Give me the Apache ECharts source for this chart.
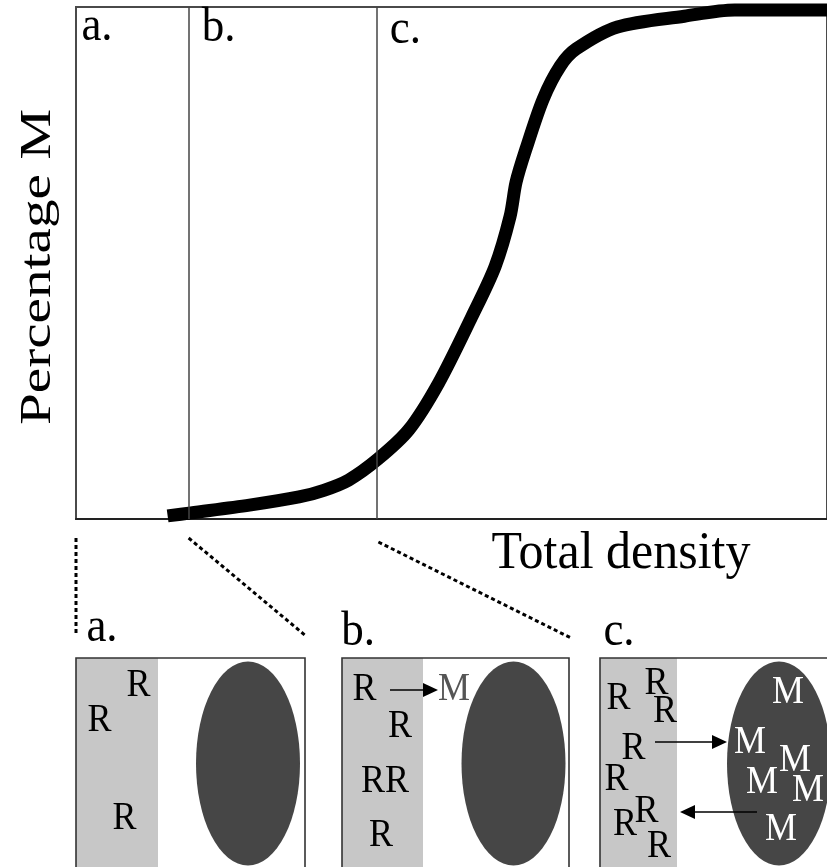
<!DOCTYPE html>
<html><head><meta charset="utf-8">
<script src="https://cdn.jsdelivr.net/npm/echarts@6/dist/echarts.min.js"></script>
<style>html,body{margin:0;padding:0;background:#fff}#c{width:827px;height:867px}</style>
</head><body><div id="c"></div>
<script>
// ---- data ----
const densityX = [12.2, 15.3, 23.1, 29.7, 33.0, 36.3, 40.2, 44.3, 48.3, 52.7, 55.8, 57.8, 58.6, 59.9, 62.2, 64.5, 66.6, 72.1, 81.0, 87.7, 100];
const percentM = [0.6, 1.2, 2.7, 4.3, 5.6, 7.6, 11.7, 17.4, 26.6, 39.5, 49.3, 59.1, 65.8, 72.2, 82.0, 88.5, 91.8, 96.1, 98.2, 99.4, 99.4];
const phaseBounds = [15, 40];
const phaseLabels = ['a.', 'b.', 'c.'];
const xAxisTitle = 'Total density';
const yAxisTitle = 'Percentage M';

const FONT = "'Liberation Serif','Times New Roman',serif";
const chart = echarts.init(document.getElementById('c'), null, {renderer: 'canvas'});

chart.setOption({
  animation: false,
  backgroundColor: '#fff',
  grid: {left: 76, top: 7, right: -4, bottom: 348, show: true, borderColor: '#4a4a4a', borderWidth: 2, backgroundColor: 'transparent'},
  xAxis: {type: 'value', min: 0, max: 100, axisLine: {show: true, lineStyle: {color: '#222', width: 2}}, axisTick: {show: false}, axisLabel: {show: false}, splitLine: {show: false}},
  yAxis: {type: 'value', min: 0, max: 100, axisLine: {show: false}, axisTick: {show: false}, axisLabel: {show: false}, splitLine: {show: false}},
  series: [{
    type: 'line',
    data: densityX.map((x, i) => [x, percentM[i]]),
    smooth: 0.3,
    symbol: 'none',
    lineStyle: {color: '#000', width: 13},
    clip: true,
    markLine: {
      silent: true,
      symbol: ['none', 'none'],
      label: {show: false},
      lineStyle: {color: '#444', width: 1.5, type: 'solid'},
      data: phaseBounds.map(v => ({xAxis: v}))
    }
  }]
});

function txt(s, x, y, size, fill, extra) {
  return Object.assign({
    type: 'text', x: x, y: y, scaleY: 1.1, z: 100,
    style: {text: s, font: size + 'px ' + FONT, fill: fill || '#000',
      textAlign: 'center', textVerticalAlign: 'middle', align: 'center', verticalAlign: 'middle'}
  }, extra || {});
}
function dashed(x1, y1, x2, y2) {
  return {type: 'line', z: 50, shape: {x1, y1, x2, y2}, style: {stroke: '#000', lineWidth: 3, lineDash: [4, 3]}};
}
function arrow(x1, y, x2) {
  const dir = x2 > x1 ? 1 : -1;
  const hl = 15, hw = 7;
  return [
    {type: 'line', z: 60, shape: {x1: x1, y1: y, x2: x2 - dir * hl, y2: y}, style: {stroke: '#000', lineWidth: 1.6}},
    {type: 'polygon', z: 60, shape: {points: [[x2, y], [x2 - dir * hl, y - hw], [x2 - dir * hl, y + hw]]}, style: {fill: '#000'}}
  ];
}
function panel(x0, x1, greyRight, ecx) {
  return [
    {type: 'rect', z: 10, shape: {x: x0, y: 658, width: x1 - x0, height: 230}, style: {fill: '#fff'}},
    {type: 'rect', z: 11, shape: {x: x0, y: 658, width: greyRight - x0, height: 230}, style: {fill: '#c7c7c7'}},
    {type: 'circle', z: 12, x: ecx, y: 763.5, scaleX: 52 / 102, shape: {cx: 0, cy: 0, r: 102}, style: {fill: '#464646'}},
    {type: 'rect', z: 13, shape: {x: x0, y: 658, width: x1 - x0, height: 230}, style: {fill: 'none', stroke: '#333', lineWidth: 1.6}}
  ];
}

function drawGraphics() {
  const pxA = chart.convertToPixel({gridIndex: 0}, [0, 0]);
  const pxB = chart.convertToPixel({gridIndex: 0}, [phaseBounds[0], 0]);
  const pxC = chart.convertToPixel({gridIndex: 0}, [phaseBounds[1], 0]);
  const g = [];
  // axis titles
  g.push(txt(xAxisTitle, 621, 554, 50, '#000', {scaleY: 1.06}));
  g.push(Object.assign(txt(yAxisTitle, 38, 267, 44, '#000'), {rotation: Math.PI / 2, scaleY: 1, scaleX: 1.3}));
  // top phase labels
  const LS = 45;
  g.push(txt(phaseLabels[0], pxA[0] + 21, 42 - 0.3 * LS * 1.1, LS));
  g.push(txt(phaseLabels[1], pxB[0] + 30, 43 - 0.3 * LS * 1.1, LS));
  g.push(txt(phaseLabels[2], pxC[0] + 29, 45 - 0.3 * LS * 1.1, LS));
  // connector dashed lines
  g.push(dashed(pxA[0], 538, pxA[0], 636));
  g.push(dashed(pxB[0], 538, 306, 636));
  g.push(dashed(pxC[0] + 2, 542, 571, 638));
  // bottom panel labels
  g.push(txt(phaseLabels[0], 102, 643 - 0.3 * LS * 1.1, LS));
  g.push(txt(phaseLabels[1], 358, 647 - 0.3 * LS * 1.1, LS));
  g.push(txt(phaseLabels[2], 619, 647 - 0.3 * LS * 1.1, LS));
  // panels
  g.push(...panel(76, 305, 158, 248));
  g.push(...panel(342, 569, 423, 513.5));
  g.push(...panel(600, 840, 677, 779));
  const F = 36;
  // panel a
  [[138.5, 685.5], [99.5, 720.5], [124.5, 818.5]].forEach(p => g.push(txt('R', p[0], p[1], F)));
  // panel b
  [[364.5, 689.5], [400, 726.5], [373, 781.5], [397, 781.5], [381, 835.5]].forEach(p => g.push(txt('R', p[0], p[1], F)));
  g.push(txt('M', 454, 690, F, '#555'));
  g.push(...arrow(390, 690, 438));
  // panel c
  [[618.5, 698.5], [656.5, 684], [665, 711.5], [633.5, 748.5], [616.5, 780], [646.5, 811.5], [625, 824.5], [659, 846.5]].forEach(p => g.push(txt('R', p[0], p[1], F)));
  [[788, 692.5], [750, 742.5], [795, 760.5], [762, 782.5], [808, 790.5], [781, 829.5]].forEach(p => g.push(txt('M', p[0], p[1], F, '#fff')));
  g.push(...arrow(655, 742, 727));
  g.push(...arrow(757, 812, 680));
  chart.setOption({graphic: {elements: g}});
}
drawGraphics();
</script>
</body></html>
